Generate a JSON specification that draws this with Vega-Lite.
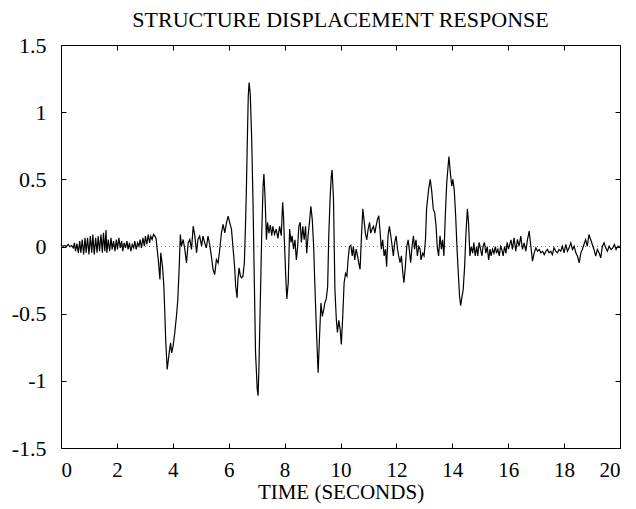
{
"$schema":"https://vega.github.io/schema/vega-lite/v6.json",
"width":559,"height":403,
"autosize":{"type":"none"},
"padding":{"left":61,"top":45,"right":16,"bottom":61},
"background":"white",
"title":{"text":"STRUCTURE DISPLACEMENT RESPONSE","font":"Liberation Serif","fontSize":22,"fontWeight":"normal","color":"black","offset":2,"anchor":"middle"},
"config":{"view":{"stroke":"black","strokeWidth":1},
 "axis":{"grid":false,"domain":false,"tickColor":"black","labelColor":"black","labelFont":"Liberation Serif","labelFontSize":22,"titleFont":"Liberation Serif","titleFontSize":21,"titleFontWeight":"normal","titleColor":"black"}},
"data":{"values":[
{"t":0.00,"v":0.015},{"t":0.02,"v":0.007},{"t":0.08,"v":0.002},{"t":0.14,"v":0.007},{"t":0.20,"v":0.002},{"t":0.26,"v":0.015},{"t":0.32,"v":-0.002},{"t":0.38,"v":0.007},{"t":0.44,"v":-0.01},{"t":0.48,"v":0.027},{"t":0.52,"v":-0.035},{"t":0.57,"v":0.022},{"t":0.62,"v":-0.047},{"t":0.67,"v":0.04},{"t":0.71,"v":-0.047},{"t":0.76,"v":0.052},{"t":0.81,"v":-0.06},{"t":0.86,"v":0.065},{"t":0.90,"v":-0.047},{"t":0.95,"v":0.065},{"t":1.00,"v":-0.06},{"t":1.05,"v":0.077},{"t":1.10,"v":-0.047},{"t":1.14,"v":0.089},{"t":1.19,"v":-0.06},{"t":1.24,"v":0.065},{"t":1.29,"v":-0.047},{"t":1.33,"v":0.077},{"t":1.38,"v":-0.035},{"t":1.43,"v":0.089},{"t":1.48,"v":-0.047},{"t":1.52,"v":0.102},{"t":1.57,"v":-0.035},{"t":1.61,"v":0.122},{"t":1.64,"v":-0.047},{"t":1.69,"v":0.052},{"t":1.74,"v":-0.035},{"t":1.79,"v":0.065},{"t":1.83,"v":-0.022},{"t":1.88,"v":0.04},{"t":1.93,"v":-0.035},{"t":1.98,"v":0.052},{"t":2.02,"v":-0.022},{"t":2.07,"v":0.065},{"t":2.12,"v":-0.01},{"t":2.17,"v":0.04},{"t":2.21,"v":-0.035},{"t":2.26,"v":0.027},{"t":2.31,"v":-0.01},{"t":2.36,"v":0.04},{"t":2.40,"v":-0.022},{"t":2.45,"v":0.027},{"t":2.50,"v":-0.035},{"t":2.55,"v":0.015},{"t":2.60,"v":-0.01},{"t":2.64,"v":0.04},{"t":2.69,"v":-0.022},{"t":2.74,"v":0.027},{"t":2.79,"v":0.002},{"t":2.83,"v":0.052},{"t":2.88,"v":-0.01},{"t":2.93,"v":0.065},{"t":2.98,"v":0.002},{"t":3.02,"v":0.077},{"t":3.07,"v":0.015},{"t":3.12,"v":0.089},{"t":3.17,"v":0.027},{"t":3.21,"v":0.077},{"t":3.26,"v":0.052},{"t":3.31,"v":0.089},{"t":3.36,"v":0.077},{"t":3.40,"v":0.06},
{"t":3.48,"v":-0.097},{"t":3.54,"v":-0.246},{"t":3.57,"v":-0.047},{"t":3.63,"v":-0.146},{"t":3.68,"v":-0.295},{"t":3.71,"v":-0.469},{"t":3.75,"v":-0.717},{"t":3.80,"v":-0.916},{"t":3.87,"v":-0.792},{"t":3.92,"v":-0.717},{"t":3.96,"v":-0.792},{"t":4.01,"v":-0.742},{"t":4.07,"v":-0.643},{"t":4.13,"v":-0.519},{"t":4.18,"v":-0.395},{"t":4.23,"v":-0.146},{"t":4.27,"v":0.089},{"t":4.31,"v":0.003},{"t":4.37,"v":0.052},{"t":4.43,"v":-0.022},{"t":4.49,"v":-0.122},{"t":4.55,"v":0.027},{"t":4.61,"v":0.052},{"t":4.67,"v":-0.022},{"t":4.73,"v":0.151},{"t":4.79,"v":0.077},{"t":4.85,"v":-0.047},{"t":4.90,"v":0.052},{"t":4.96,"v":0.077},{"t":5.03,"v":0.003},{"t":5.08,"v":0.077},{"t":5.14,"v":0.027},{"t":5.20,"v":-0.01},{"t":5.26,"v":0.077},{"t":5.32,"v":0.015},{"t":5.38,"v":-0.072},{"t":5.44,"v":-0.171},{"t":5.50,"v":-0.208},{"t":5.56,"v":-0.097},{"t":5.62,"v":-0.122},{"t":5.68,"v":-0.022},{"t":5.74,"v":0.102},{"t":5.80,"v":0.164},{"t":5.86,"v":0.102},{"t":5.92,"v":0.176},{"t":5.98,"v":0.226},{"t":6.04,"v":0.176},{"t":6.10,"v":0.127},{"t":6.15,"v":0.003},{"t":6.21,"v":-0.146},{"t":6.25,"v":-0.295},{"t":6.30,"v":-0.382},{"t":6.33,"v":-0.245},{"t":6.37,"v":-0.159},{"t":6.42,"v":-0.221},{"t":6.46,"v":-0.233},{"t":6.51,"v":-0.221},{"t":6.56,"v":-0.12},{"t":6.60,"v":0.15},{"t":6.63,"v":0.40},{"t":6.66,"v":0.72},{"t":6.70,"v":1.12},{"t":6.73,"v":1.22},{"t":6.77,"v":1.14},{"t":6.82,"v":0.82},{"t":6.87,"v":0.33},{"t":6.92,"v":-0.30},{"t":6.96,"v":-0.79},{"t":7.02,"v":-1.06},{"t":7.05,"v":-1.11},{"t":7.08,"v":-0.92},{"t":7.13,"v":-0.42},{"t":7.18,"v":0.08},{"t":7.23,"v":0.45},{"t":7.26,"v":0.54},{"t":7.30,"v":0.37},{"t":7.35,"v":0.05},{"t":7.39,"v":0.18},{"t":7.44,"v":0.10},{"t":7.49,"v":0.16},{"t":7.54,"v":0.08},{"t":7.58,"v":0.15},{"t":7.64,"v":0.09},{"t":7.70,"v":0.13},{"t":7.76,"v":0.06},{"t":7.82,"v":0.15},{"t":7.88,"v":0.08},{"t":7.93,"v":0.33},{"t":7.96,"v":0.23},{"t":8.00,"v":0.00},{"t":8.04,"v":-0.22},{"t":8.08,"v":-0.39},{"t":8.13,"v":-0.27},{"t":8.18,"v":0.13},{"t":8.23,"v":0.03},{"t":8.27,"v":0.08},{"t":8.32,"v":-0.02},{"t":8.37,"v":0.05},{"t":8.42,"v":-0.10},{"t":8.46,"v":-0.02},{"t":8.51,"v":0.15},{"t":8.56,"v":0.18},{"t":8.60,"v":0.03},{"t":8.65,"v":0.15},{"t":8.70,"v":0.05},{"t":8.75,"v":0.15},{"t":8.79,"v":-0.05},{"t":8.84,"v":0.08},{"t":8.89,"v":0.18},{"t":8.94,"v":0.30},{"t":8.99,"v":0.20},{"t":9.04,"v":0.00},{"t":9.08,"v":-0.27},{"t":9.13,"v":-0.57},{"t":9.17,"v":-0.79},{"t":9.20,"v":-0.94},{"t":9.25,"v":-0.67},{"t":9.30,"v":-0.42},{"t":9.35,"v":-0.52},{"t":9.40,"v":-0.47},{"t":9.44,"v":-0.42},{"t":9.49,"v":-0.39},{"t":9.54,"v":-0.30},{"t":9.58,"v":0.08},{"t":9.63,"v":0.37},{"t":9.67,"v":0.52},{"t":9.70,"v":0.57},{"t":9.75,"v":0.35},{"t":9.80,"v":-0.32},{"t":9.85,"v":-0.54},{"t":9.89,"v":-0.64},{"t":9.94,"v":-0.55},{"t":9.99,"v":-0.62},{"t":10.03,"v":-0.73},{"t":10.08,"v":-0.52},{"t":10.13,"v":-0.27},{"t":10.18,"v":-0.20},{"t":10.23,"v":-0.22},{"t":10.27,"v":-0.10},{"t":10.32,"v":0.00},{"t":10.37,"v":0.01},{"t":10.42,"v":-0.07},{"t":10.46,"v":0.00},{"t":10.51,"v":-0.10},{"t":10.56,"v":-0.02},{"t":10.61,"v":-0.07},{"t":10.65,"v":-0.12},{"t":10.70,"v":-0.17},{"t":10.75,"v":0.08},{"t":10.80,"v":0.28},{"t":10.85,"v":0.18},{"t":10.89,"v":0.10},{"t":10.94,"v":0.05},{"t":10.99,"v":0.13},{"t":11.04,"v":0.18},{"t":11.08,"v":0.10},{"t":11.13,"v":0.13},{"t":11.18,"v":0.15},{"t":11.23,"v":0.10},{"t":11.27,"v":0.15},{"t":11.32,"v":0.20},{"t":11.37,"v":0.23},{"t":11.42,"v":0.10},{"t":11.46,"v":-0.02},{"t":11.51,"v":0.05},{"t":11.56,"v":-0.07},{"t":11.61,"v":-0.02},{"t":11.65,"v":-0.15},{"t":11.70,"v":0.08},{"t":11.75,"v":0.15},{"t":11.80,"v":0.08},{"t":11.85,"v":0.00},{"t":11.89,"v":-0.07},{"t":11.94,"v":0.03},{"t":11.99,"v":0.08},{"t":12.04,"v":-0.02},{"t":12.08,"v":-0.07},{"t":12.13,"v":-0.12},{"t":12.18,"v":-0.07},{"t":12.23,"v":-0.20},{"t":12.27,"v":-0.27},{"t":12.32,"v":-0.15},{"t":12.37,"v":0.00},{"t":12.42,"v":0.05},{"t":12.46,"v":-0.02},{"t":12.51,"v":-0.12},{"t":12.56,"v":0.00},{"t":12.61,"v":0.08},{"t":12.65,"v":-0.02},{"t":12.70,"v":0.05},{"t":12.75,"v":-0.07},{"t":12.80,"v":0.00},{"t":12.85,"v":-0.02},{"t":12.88,"v":-0.10},{"t":12.94,"v":-0.05},{"t":12.99,"v":-0.07},{"t":13.04,"v":0.05},{"t":13.08,"v":0.28},{"t":13.15,"v":0.42},{"t":13.21,"v":0.50},{"t":13.26,"v":0.42},{"t":13.32,"v":0.28},{"t":13.37,"v":0.25},{"t":13.42,"v":0.15},{"t":13.46,"v":0.00},{"t":13.51,"v":-0.07},{"t":13.56,"v":0.08},{"t":13.61,"v":-0.02},{"t":13.65,"v":0.05},{"t":13.70,"v":-0.07},{"t":13.75,"v":0.23},{"t":13.80,"v":0.47},{"t":13.85,"v":0.60},{"t":13.88,"v":0.67},{"t":13.93,"v":0.55},{"t":13.98,"v":0.45},{"t":14.02,"v":0.50},{"t":14.07,"v":0.42},{"t":14.12,"v":0.23},{"t":14.17,"v":-0.02},{"t":14.22,"v":-0.22},{"t":14.26,"v":-0.37},{"t":14.30,"v":-0.44},{"t":14.35,"v":-0.37},{"t":14.39,"v":-0.32},{"t":14.44,"v":-0.15},{"t":14.49,"v":0.10},{"t":14.54,"v":0.28},{"t":14.58,"v":0.18},{"t":14.63,"v":-0.07},{"t":14.68,"v":0.00},{"t":14.73,"v":-0.05},{"t":14.77,"v":0.03},{"t":14.82,"v":-0.07},{"t":14.87,"v":0.00},{"t":14.91,"v":-0.07},{"t":14.96,"v":0.03},{"t":15.01,"v":-0.02},{"t":15.06,"v":-0.07},{"t":15.10,"v":0.00},{"t":15.15,"v":0.03},{"t":15.20,"v":-0.05},{"t":15.25,"v":0.00},{"t":15.30,"v":-0.10},{"t":15.35,"v":-0.02},{"t":15.39,"v":-0.07},{"t":15.44,"v":-0.02},{"t":15.49,"v":-0.05},{"t":15.54,"v":0.00},{"t":15.58,"v":-0.05},{"t":15.63,"v":-0.02},{"t":15.68,"v":-0.07},{"t":15.73,"v":0.00},{"t":15.77,"v":-0.02},{"t":15.82,"v":-0.07},{"t":15.87,"v":0.00},{"t":15.92,"v":-0.05},{"t":15.96,"v":0.03},{"t":16.01,"v":-0.02},
{"t":16.10,"v":0.05},{"t":16.15,"v":-0.022},{"t":16.21,"v":0.065},{"t":16.27,"v":-0.035},{"t":16.33,"v":0.052},{"t":16.39,"v":0.002},{"t":16.45,"v":0.077},{"t":16.51,"v":-0.022},{"t":16.57,"v":0.027},{"t":16.63,"v":-0.035},{"t":16.69,"v":0.052},{"t":16.75,"v":0.115},{"t":16.81,"v":0.002},{"t":16.87,"v":-0.109},{"t":16.93,"v":-0.047},{"t":16.99,"v":-0.01},{"t":17.05,"v":-0.035},{"t":17.11,"v":-0.022},{"t":17.17,"v":-0.047},{"t":17.23,"v":-0.035},{"t":17.29,"v":-0.06},{"t":17.35,"v":-0.035},{"t":17.40,"v":-0.022},{"t":17.46,"v":-0.047},{"t":17.52,"v":-0.035},{"t":17.58,"v":-0.06},{"t":17.64,"v":-0.01},{"t":17.70,"v":-0.035},{"t":17.76,"v":-0.047},{"t":17.82,"v":-0.022},{"t":17.88,"v":-0.035},{"t":17.94,"v":0.002},{"t":18.00,"v":-0.047},{"t":18.06,"v":0.015},{"t":18.12,"v":-0.035},{"t":18.18,"v":-0.01},{"t":18.24,"v":0.027},{"t":18.30,"v":-0.022},{"t":18.36,"v":0.002},{"t":18.42,"v":-0.047},{"t":18.48,"v":-0.072},{"t":18.54,"v":-0.122},{"t":18.60,"v":-0.047},{"t":18.65,"v":-0.022},{"t":18.71,"v":0.015},{"t":18.77,"v":0.052},{"t":18.83,"v":0.002},{"t":18.89,"v":0.089},{"t":18.95,"v":0.052},{"t":19.01,"v":0.015},{"t":19.07,"v":-0.022},{"t":19.13,"v":-0.072},{"t":19.19,"v":-0.022},{"t":19.25,"v":-0.047},{"t":19.31,"v":-0.085},{"t":19.37,"v":0.002},{"t":19.43,"v":0.027},{"t":19.49,"v":-0.01},{"t":19.55,"v":-0.035},{"t":19.61,"v":0.002},{"t":19.68,"v":-0.022},{"t":19.74,"v":-0.01},{"t":19.80,"v":0.015},{"t":19.86,"v":-0.022},{"t":19.92,"v":0.002},{"t":19.98,"v":0.002},{"t":20.00,"v":0.0}
]},
"layer":[
 {"data":{"values":[{"t0":0,"t1":20,"z":0}]},
  "mark":{"type":"rule","color":"#777777","strokeWidth":1,"strokeDash":[1,3]},
  "encoding":{
   "x":{"field":"t0","type":"quantitative","scale":{"domain":[0,20]},"axis":{"orient":"top","values":[0,2,4,6,8,10,12,14,16,18,20],"labels":false,"tickSize":-5,"title":null}},
   "x2":{"field":"t1"},
   "y":{"field":"z","type":"quantitative","scale":{"domain":[-1.5,1.5]},"axis":{"orient":"right","values":[-1.5,-1,-0.5,0,0.5,1,1.5],"labels":false,"tickSize":-5,"title":null}}}},
 {"mark":{"type":"line","color":"black","strokeWidth":1.2},
  "encoding":{
   "x":{"field":"t","type":"quantitative","scale":{"domain":[0,20]},"axis":{"orient":"bottom","values":[0,2,4,6,8,10,12,14,16,18,20],"tickSize":-5,"labelFontSize":21,"labelPadding":16,"title":"TIME (SECONDS)","titlePadding":1}},
   "y":{"field":"v","type":"quantitative","scale":{"domain":[-1.5,1.5]},"axis":{"orient":"left","values":[-1.5,-1,-0.5,0,0.5,1,1.5],"labelExpr":"'' + datum.value","tickSize":-5,"labelPadding":20,"title":null}}}}
],
"resolve":{"axis":{"x":"independent","y":"independent"}}
}
